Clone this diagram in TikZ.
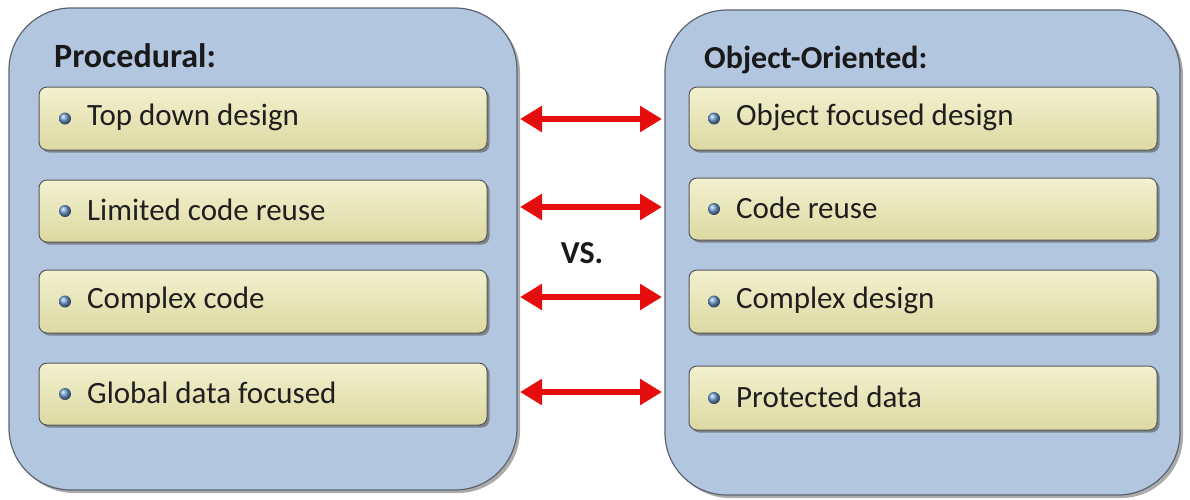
\documentclass[tikz,border=0pt]{standalone}
\usepackage{fontspec}
\setmainfont{Carlito}
\usetikzlibrary{shadows,arrows.meta,shadings}
\definecolor{panelfill}{HTML}{B3C6E0}
\definecolor{panelline}{HTML}{5A6470}
\definecolor{itemtop}{HTML}{F3F1CF}
\definecolor{itembot}{HTML}{DCD9A2}
\definecolor{itemline}{HTML}{55585A}
\definecolor{arrred}{HTML}{E50D0D}
\definecolor{bulletc}{HTML}{6E9CD0}
\tikzset{
  panel/.style={draw=panelline, line width=1.2pt, fill=panelfill, rounded corners=62pt,
    drop shadow={shadow xshift=3pt, shadow yshift=-3pt, fill=black!55, opacity=0.6}},
  itembox/.style={draw=itemline, line width=1pt, rounded corners=8pt,
    top color=itemtop, bottom color=itembot,
    drop shadow={shadow xshift=2.5pt, shadow yshift=-2.5pt, fill=black!60, opacity=0.7}},
  itemtext/.style={anchor=west, font=\fontsize{31}{34}\selectfont, text=black!88, inner sep=0pt},
  titletext/.style={anchor=west, font=\fontsize{34}{38}\selectfont\bfseries, text=black!90, inner sep=0pt},
  bulletdot/.style={circle, inner sep=0pt, minimum size=12pt, ball color=bulletc},
  cmp/.style={draw=arrred, line width=6pt, {Triangle[length=22pt,width=25pt]}-{Triangle[length=22pt,width=25pt]}}
}
\begin{document}
\begin{tikzpicture}[x=1pt,y=-1pt]
\useasboundingbox (0,0) rectangle (1190,499);
% panels
\path[panel] (9,8) rectangle (517,490);
\path[panel] (665,10) rectangle (1180,495);
% titles
\node[titletext] (tP) at (54,56) {Procedural:};
\node[titletext,font=\fontsize{32}{36}\selectfont\bfseries] (tO) at (704,60) {Object-Oriented:};
% left items
\foreach \n/\ya/\yb/\t in {1/87/150/Top down design, 2/180/242/Limited code reuse, 3/270/333/Complex code, 4/363/425/Global data focused}{
  \path[itembox] (39,\ya) rectangle (487,\yb);
  \node[bulletdot] (lb\n) at (65,{(\ya+\yb)/2}) {};
  \node[itemtext] (lt\n) at (87,{(\ya+\yb)/2-1}) {\t};
}
\foreach \n/\ya/\yb/\t in {1/87/150/Object focused design, 2/178/240/Code reuse, 3/270/333/Complex design, 4/366/430/Protected data}{
  \path[itembox] (689,\ya) rectangle (1157,\yb);
  \node[bulletdot] (rb\n) at (714,{(\ya+\yb)/2}) {};
  \node[itemtext] (rt\n) at (736,{(\ya+\yb)/2-1}) {\t};
}
% arrow endpoints
\foreach \n/\y in {1/119,2/207,3/297,4/392}{
  \coordinate (al\n) at (520,\y);
  \coordinate (ar\n) at (662,\y);
  \draw[cmp] (al\n) -- (ar\n);
}
\node[font=\fontsize{32}{36}\selectfont\bfseries, text=black!90] (vs) at (582,253) {VS.};
\end{tikzpicture}
\end{document}
